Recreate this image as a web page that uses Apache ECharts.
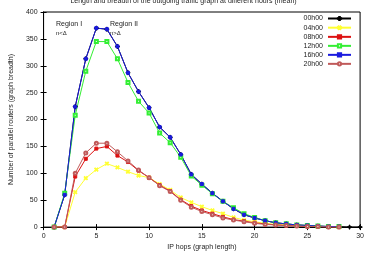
<!DOCTYPE html>
<html>
<head>
<meta charset="utf-8">
<script src="https://cdn.jsdelivr.net/npm/echarts@6/dist/echarts.min.js"></script>
<style>
  html, body { margin: 0; padding: 0; background: #fff; }
  #chart { width: 367px; height: 256px; }
</style>
</head>
<body>
<div id="chart"></div>
<script>
// IP hops on the x axis
var hops = [1, 2, 3, 4, 5, 6, 7, 8, 9, 10, 11, 12, 13, 14, 15, 16, 17, 18, 19, 20, 21, 22, 23, 24, 25, 26, 27, 28, 29, 30];

// parallel routers per hour of the day
var h00 = [0, 60, 224, 313, 370, 368, 336, 287, 252, 222, 186, 167, 135, 98, 80, 63, 48, 34, 23, 17, 12, 8, 6, 4, 3, 2, 1, 1, 0, 0];
var h04 = [0, 0, 65, 91, 107, 118, 111, 103, 96, 92, 80, 69, 55, 46, 38, 31, 25, 18, 13, 10, 7, 5, 4, 3, 2, 1, 1, 0];
var h08 = [0, 0, 94, 127, 146, 150, 133, 121, 105, 92, 78, 67, 51, 39, 31, 25, 19, 14, 11, 8, 6, 4, 3, 2, 1, 1, 0, 0];
var h12 = [0, 63, 208, 290, 345, 345, 313, 269, 234, 212, 175, 157, 130, 95, 78, 62, 48, 36, 25, 18, 12, 8, 6, 4, 3, 2, 1, 1];
var h16 = [0, 60, 224, 313, 370, 368, 336, 287, 252, 222, 186, 167, 135, 98, 80, 63, 48, 34, 23, 17, 12, 8, 6, 4, 3, 2, 1, 1];
var h20 = [0, 0, 100, 138, 156, 156, 140, 123, 106, 92, 77, 66, 50, 37, 29, 23, 17, 13, 10, 7, 5, 4, 3, 2, 1, 1, 0, 0];

var font = 'Liberation Sans, Arial, sans-serif';
var plusPath = 'path://M4,0H6V4H10V6H6V10H4V6H0V4H4Z';

function pairs(vals) {
    return vals.map(function (v, i) { return [hops[i], v]; });
}

function makeSeries(name, vals, color, symbol, size, rotate) {
    return {
        name: name,
        type: 'line',
        data: pairs(vals),
        symbol: symbol,
        symbolSize: size,
        symbolRotate: rotate || 0,
        showSymbol: true,
        animation: false,
        lineStyle: { color: color, width: 1 },
        itemStyle: { color: color, borderColor: color, borderWidth: 1 }
    };
}

var myChart = echarts.init(document.getElementById('chart'));

var option = {
    backgroundColor: '#fff',
    animation: false,
    textStyle: { fontFamily: font },
    title: {
        text: 'Length and breadth of the outgoing traffic graph at different hours (mean)',
        left: 'center',
        top: -7,
        textStyle: { fontSize: 7, fontWeight: 'normal', color: '#222', fontFamily: font }
    },
    legend: {
        orient: 'vertical',
        right: 15,
        top: 15,
        padding: 0,
        align: 'right',
        itemWidth: 23,
        itemHeight: 4,
        itemGap: 2,
        textStyle: { fontSize: 7, lineHeight: 6, color: '#222', fontFamily: font },
        data: ['00h00', '04h00', '08h00', '12h00', '16h00', '20h00']
    },
    grid: {
        left: 34,
        right: 6,
        top: 12,
        bottom: 26,
        show: true,
        borderColor: '#000',
        borderWidth: 1
    },
    xAxis: [
        {
            type: 'value',
            min: 0,
            max: 30,
            interval: 5,
            name: 'IP hops (graph length)',
            nameLocation: 'middle',
            nameGap: 15,
            nameTextStyle: { fontSize: 7, color: '#222' },
            axisLine: { lineStyle: { color: '#000' } },
            axisTick: { inside: true, length: 3, lineStyle: { color: '#000' } },
            axisLabel: { fontSize: 7, color: '#222', margin: 5 },
            splitLine: { show: false }
        },
        {
            type: 'value',
            position: 'top',
            min: 0,
            max: 30,
            interval: 5,
            axisLine: { lineStyle: { color: '#000' } },
            axisTick: { inside: true, length: 3, lineStyle: { color: '#000' } },
            axisLabel: { show: false },
            splitLine: { show: false }
        }
    ],
    yAxis: [
        {
            type: 'value',
            min: 0,
            max: 400,
            interval: 50,
            name: 'Number of parallel routers (graph breadth)',
            nameLocation: 'middle',
            nameGap: 22,
            nameTextStyle: { fontSize: 7, color: '#222' },
            axisLine: { show: true, lineStyle: { color: '#000' } },
            axisTick: { show: true, inside: true, length: 3, lineStyle: { color: '#000' } },
            axisLabel: { fontSize: 7, color: '#222', margin: 6 },
            splitLine: { show: false }
        },
        {
            type: 'value',
            position: 'right',
            min: 0,
            max: 400,
            interval: 50,
            axisLine: { show: true, lineStyle: { color: '#000' } },
            axisTick: { show: true, inside: true, length: 3, lineStyle: { color: '#000' } },
            axisLabel: { show: false },
            splitLine: { show: false }
        }
    ],
    graphic: [
        { type: 'text', left: 56, top: 21, style: { text: 'Region I', fontSize: 7, fill: '#222', fontFamily: font } },
        { type: 'text', left: 56, top: 30, style: { text: 'n<\u0394', fontSize: 6, fill: '#222', fontFamily: font } },
        { type: 'text', left: 110, top: 21, style: { text: 'Region II', fontSize: 7, fill: '#222', fontFamily: font } },
        { type: 'text', left: 110, top: 30, style: { text: 'n>\u0394', fontSize: 6, fill: '#222', fontFamily: font } }
    ],
    series: [
        makeSeries('00h00', h00, '#000000', plusPath, 4),
        makeSeries('04h00', h04, '#ffff33', plusPath, 4, 45),
        makeSeries('08h00', h08, '#dd1111', 'rect', 3),
        makeSeries('12h00', h12, '#33ee33', 'emptyRect', 3),
        makeSeries('16h00', h16, '#1a1adf', 'rect', 3),
        makeSeries('20h00', h20, '#c05a5a', 'emptyCircle', 3)
    ]
};

myChart.setOption(option);
</script>
</body>
</html>
